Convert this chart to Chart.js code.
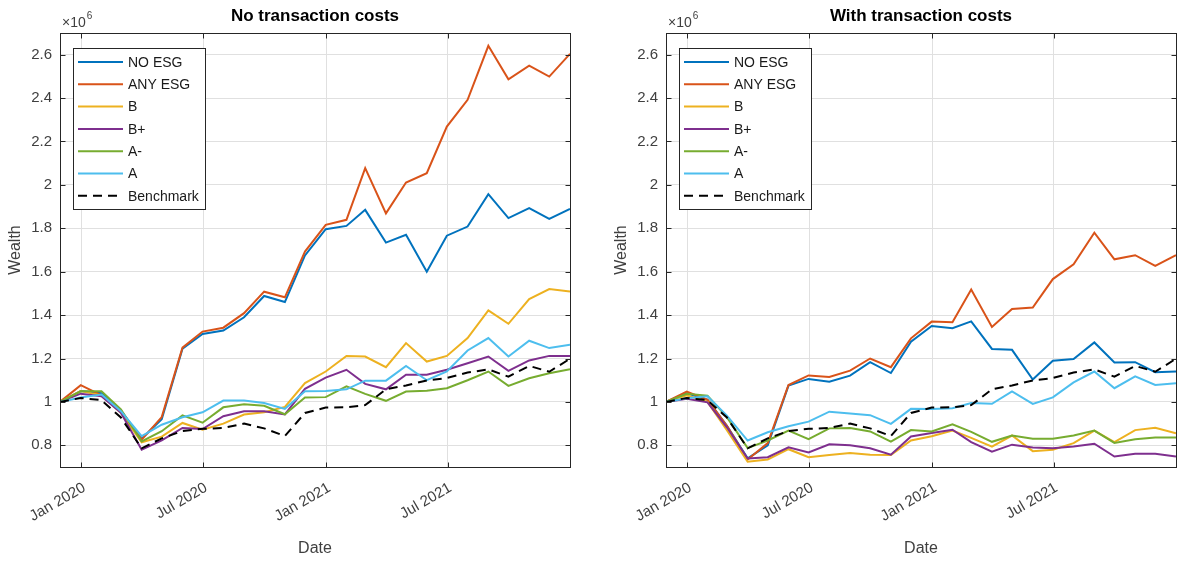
<!DOCTYPE html>
<html>
<head>
<meta charset="utf-8">
<title>Wealth</title>
<script src="https://cdn.jsdelivr.net/npm/chart.js@4.4.1/dist/chart.umd.min.js"></script>
<style>
  html, body { margin: 0; padding: 0; background: #fff; overflow: hidden; }
  #wrap { position: relative; width: 1178px; height: 561px; }
  canvas { position: absolute; top: 0; }
  #left { left: 0; }
  #right { left: 606px; }
</style>
</head>
<body>
<div id="wrap">
  <canvas id="left" width="572" height="561"></canvas>
  <canvas id="right" width="572" height="561"></canvas>
</div>
<script>
// month-end observation dates
var dates = [
    '2019-11-30', '2019-12-31', '2020-01-31', '2020-02-29', '2020-03-31', '2020-04-30',
    '2020-05-31', '2020-06-30', '2020-07-31', '2020-08-31', '2020-09-30', '2020-10-31',
    '2020-11-30', '2020-12-31', '2021-01-31', '2021-02-28', '2021-03-31', '2021-04-30',
    '2021-05-31', '2021-06-30', '2021-07-31', '2021-08-31', '2021-09-30', '2021-10-31',
    '2021-11-30', '2021-12-31'
];
var seriesNames = ['NO ESG', 'ANY ESG', 'B', 'B+', 'A-', 'A', 'Benchmark'];

// wealth in units of 10^6, no transaction costs
var noCostNoEsg = [1.00, 1.05, 1.04, 0.96, 0.83, 0.92, 1.245, 1.313, 1.329, 1.39, 1.488, 1.46, 1.675, 1.796, 1.811, 1.885, 1.734, 1.77, 1.60, 1.766, 1.808, 1.957, 1.847, 1.893, 1.843, 1.889];
var noCostAnyEsg = [1.00, 1.077, 1.03, 0.96, 0.826, 0.93, 1.25, 1.324, 1.342, 1.409, 1.508, 1.482, 1.693, 1.816, 1.839, 2.077, 1.869, 2.011, 2.054, 2.269, 2.392, 2.641, 2.487, 2.55, 2.499, 2.604];
var noCostB = [1.00, 1.05, 1.03, 0.95, 0.814, 0.84, 0.903, 0.872, 0.90, 0.942, 0.952, 0.977, 1.087, 1.14, 1.212, 1.209, 1.16, 1.271, 1.186, 1.212, 1.294, 1.422, 1.36, 1.474, 1.52, 1.509];
var noCostBPlus = [1.00, 1.038, 1.026, 0.95, 0.78, 0.823, 0.88, 0.875, 0.934, 0.957, 0.957, 0.942, 1.06, 1.112, 1.148, 1.083, 1.058, 1.125, 1.125, 1.148, 1.178, 1.209, 1.143, 1.191, 1.212, 1.212];
var noCostAMinus = [1.00, 1.049, 1.049, 0.965, 0.818, 0.865, 0.938, 0.904, 0.975, 0.989, 0.982, 0.943, 1.02, 1.022, 1.072, 1.037, 1.005, 1.048, 1.051, 1.063, 1.10, 1.14, 1.074, 1.109, 1.132, 1.151];
var noCostA = [1.00, 1.02, 1.034, 0.957, 0.842, 0.895, 0.929, 0.952, 1.006, 1.006, 0.995, 0.968, 1.049, 1.05, 1.058, 1.098, 1.098, 1.166, 1.10, 1.14, 1.237, 1.294, 1.209, 1.282, 1.248, 1.263];

// wealth in units of 10^6, with transaction costs
var withCostNoEsg = [1.00, 1.04, 1.01, 0.89, 0.74, 0.80, 1.075, 1.106, 1.093, 1.121, 1.183, 1.133, 1.277, 1.35, 1.34, 1.371, 1.244, 1.24, 1.103, 1.19, 1.198, 1.274, 1.182, 1.183, 1.137, 1.14];
var withCostAnyEsg = [1.00, 1.048, 1.01, 0.89, 0.735, 0.81, 1.078, 1.122, 1.115, 1.144, 1.20, 1.16, 1.293, 1.37, 1.367, 1.518, 1.345, 1.428, 1.435, 1.566, 1.634, 1.78, 1.657, 1.676, 1.627, 1.676];
var withCostB = [1.00, 1.03, 1.00, 0.87, 0.724, 0.735, 0.782, 0.745, 0.755, 0.764, 0.757, 0.755, 0.822, 0.842, 0.868, 0.834, 0.794, 0.845, 0.773, 0.78, 0.81, 0.868, 0.815, 0.87, 0.881, 0.855];
var withCostBPlus = [1.00, 1.015, 0.998, 0.883, 0.739, 0.745, 0.791, 0.767, 0.805, 0.80, 0.786, 0.757, 0.841, 0.857, 0.872, 0.815, 0.771, 0.803, 0.79, 0.786, 0.795, 0.807, 0.748, 0.761, 0.761, 0.748];
var withCostAMinus = [1.00, 1.037, 1.029, 0.93, 0.787, 0.822, 0.868, 0.828, 0.878, 0.88, 0.864, 0.817, 0.87, 0.864, 0.897, 0.862, 0.816, 0.845, 0.83, 0.83, 0.845, 0.868, 0.811, 0.828, 0.836, 0.836];
var withCostA = [1.00, 1.017, 1.026, 0.937, 0.822, 0.86, 0.888, 0.909, 0.955, 0.947, 0.939, 0.899, 0.968, 0.967, 0.971, 0.995, 0.991, 1.048, 0.991, 1.021, 1.09, 1.14, 1.063, 1.118, 1.078, 1.086];

// same benchmark in both panels
var benchmark = [1.00, 1.018, 1.008, 0.928, 0.786, 0.832, 0.866, 0.876, 0.88, 0.90, 0.878, 0.843, 0.949, 0.974, 0.975, 0.985, 1.058, 1.076, 1.099, 1.11, 1.135, 1.15, 1.116, 1.166, 1.139, 1.199];

var xTickDates = ['2020-01-01', '2020-07-01', '2021-01-01', '2021-07-01'];
var xTickLabels = ['Jan 2020', 'Jul 2020', 'Jan 2021', 'Jul 2021'];
var yTicks = [0.8, 1.0, 1.2, 1.4, 1.6, 1.8, 2.0, 2.2, 2.4, 2.6];

var colors = ['#0072BD', '#D95319', '#EDB120', '#7E2F8E', '#77AC30', '#4DBEEE', '#000000'];
var fontFamily = "'Liberation Sans', Arial, Helvetica, sans-serif";
var axisColor = '#404040';

Chart.defaults.font.family = fontFamily;

function dayNumber(s) {
    var p = s.split('-');
    return Date.UTC(+p[0], +p[1] - 1, +p[2]) / 86400000;
}

function makePoints(values) {
    return values.map(function(v, i) {
        return { x: dayNumber(dates[i]), y: v };
    });
}

function buildDatasets(seriesList) {
    return seriesList.map(function(values, i) {
        var isBench = seriesNames[i] === 'Benchmark';
        return {
            label: seriesNames[i],
            data: makePoints(values),
            borderColor: colors[i],
            backgroundColor: colors[i],
            borderWidth: 2,
            borderDash: isBench ? [9, 6] : [],
            pointRadius: 0,
            tension: 0,
            // later series are drawn on top
            order: seriesList.length - i
        };
    });
}

// axes box, inward ticks, title, x10^6 multiplier and legend
var panelDecor = {
    id: 'panelDecor',
    afterDatasetsDraw: function(chart, args, opts) {
        var ctx = chart.ctx;
        var a = chart.chartArea;
        var xs = chart.scales.x;
        var ys = chart.scales.y;
        var left = Math.round(a.left) + 0.5;
        var right = Math.round(a.right) + 0.5;
        var top = Math.round(a.top) + 0.5;
        var bottom = Math.round(a.bottom) + 0.5;
        ctx.save();

        ctx.setLineDash([]);
        ctx.strokeStyle = '#262626';
        ctx.lineWidth = 1;
        ctx.strokeRect(left, top, right - left, bottom - top);

        ctx.beginPath();
        yTicks.forEach(function(v) {
            var py = Math.round(ys.getPixelForValue(v)) + 0.5;
            ctx.moveTo(left, py); ctx.lineTo(left + 5, py);
            ctx.moveTo(right, py); ctx.lineTo(right - 5, py);
        });
        xTickDates.forEach(function(d) {
            var px = Math.round(xs.getPixelForValue(dayNumber(d))) + 0.5;
            ctx.moveTo(px, bottom); ctx.lineTo(px, bottom - 5);
            ctx.moveTo(px, top); ctx.lineTo(px, top + 5);
        });
        ctx.stroke();

        ctx.fillStyle = '#000';
        ctx.font = 'bold 17px ' + fontFamily;
        ctx.textAlign = 'center';
        ctx.textBaseline = 'middle';
        ctx.fillText(opts.title, (a.left + a.right) / 2, 16);

        ctx.fillStyle = axisColor;
        ctx.textAlign = 'left';
        ctx.textBaseline = 'alphabetic';
        ctx.font = '14px ' + fontFamily;
        ctx.fillText('\u00d710', a.left + 2, 27);
        var w = ctx.measureText('\u00d710').width;
        ctx.font = '10px ' + fontFamily;
        ctx.fillText('6', a.left + 3 + w, 19);

        var lx = Math.round(a.left) + 13;
        var ly = Math.round(a.top) + 15;
        var lw = 132;
        var lh = 161;
        ctx.fillStyle = '#fff';
        ctx.fillRect(lx, ly, lw, lh);
        ctx.strokeStyle = '#262626';
        ctx.lineWidth = 1;
        ctx.strokeRect(lx + 0.5, ly + 0.5, lw, lh);
        ctx.font = '14px ' + fontFamily;
        ctx.textBaseline = 'middle';
        chart.data.datasets.forEach(function(ds, i) {
            var ry = ly + 14 + i * 22.3;
            ctx.strokeStyle = ds.borderColor;
            ctx.lineWidth = 2;
            ctx.setLineDash(ds.borderDash);
            ctx.beginPath();
            ctx.moveTo(lx + 5, ry);
            ctx.lineTo(lx + 50, ry);
            ctx.stroke();
            ctx.setLineDash([]);
            ctx.fillStyle = '#1a1a1a';
            ctx.fillText(ds.label, lx + 55, ry + 1);
        });
        ctx.restore();
    }
};

function makeChart(canvasId, title, seriesList) {
    var context = document.getElementById(canvasId).getContext('2d');
    return new Chart(context, {
        type: 'line',
        data: { datasets: buildDatasets(seriesList) },
        plugins: [panelDecor],
        options: {
            responsive: false,
            animation: false,
            devicePixelRatio: 1,
            layout: { padding: { left: 0, right: 2, top: 33, bottom: 0 } },
            plugins: {
                legend: { display: false },
                tooltip: { enabled: false },
                panelDecor: { title: title }
            },
            scales: {
                x: {
                    type: 'linear',
                    min: dayNumber(dates[0]),
                    max: dayNumber(dates[dates.length - 1]),
                    afterBuildTicks: function(scale) {
                        scale.ticks = xTickDates.map(function(d) { return { value: dayNumber(d) }; });
                    },
                    afterFit: function(scale) { scale.height = 94; },
                    ticks: {
                        autoSkip: false,
                        minRotation: 30,
                        maxRotation: 30,
                        padding: 12,
                        labelOffset: 3,
                        color: axisColor,
                        font: { size: 15 },
                        callback: function(value, index) { return xTickLabels[index]; }
                    },
                    grid: { color: '#e0e0e0', drawTicks: false },
                    border: { display: false },
                    title: {
                        display: true,
                        text: 'Date',
                        color: axisColor,
                        font: { size: 16 },
                        padding: { top: 0, bottom: 3 }
                    }
                },
                y: {
                    type: 'linear',
                    min: 0.7,
                    max: 2.7,
                    afterBuildTicks: function(scale) {
                        scale.ticks = yTicks.map(function(v) { return { value: v }; });
                    },
                    afterFit: function(scale) { scale.width = 60; },
                    ticks: {
                        padding: 8,
                        color: axisColor,
                        font: { size: 15 },
                        callback: function(value) { return String(Math.round(value * 10) / 10); }
                    },
                    grid: { color: '#e0e0e0', drawTicks: false },
                    border: { display: false },
                    title: {
                        display: true,
                        text: 'Wealth',
                        color: axisColor,
                        font: { size: 16 },
                        padding: { top: 6, bottom: 0 }
                    }
                }
            }
        }
    });
}

makeChart('left', 'No transaction costs',
    [noCostNoEsg, noCostAnyEsg, noCostB, noCostBPlus, noCostAMinus, noCostA, benchmark]);
makeChart('right', 'With transaction costs',
    [withCostNoEsg, withCostAnyEsg, withCostB, withCostBPlus, withCostAMinus, withCostA, benchmark]);
</script>
</body>
</html>
